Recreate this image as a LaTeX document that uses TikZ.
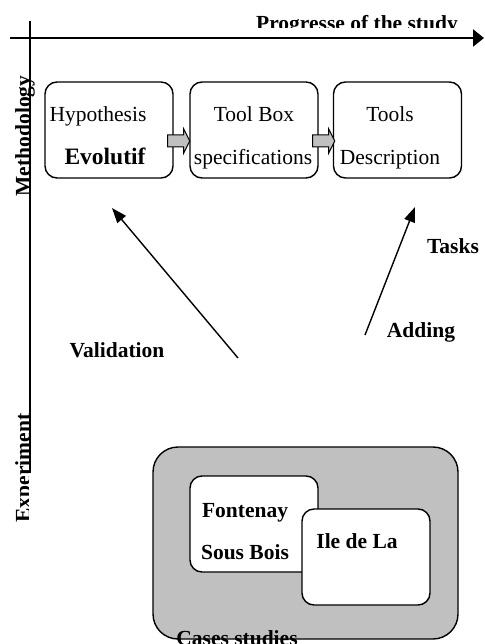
\documentclass[tikz,border=0pt]{standalone}
\usepackage{fontspec}
\setmainfont{Liberation Serif}
\usetikzlibrary{arrows.meta}
\definecolor{shade}{HTML}{C0C0C0}
\begin{document}
\begin{tikzpicture}[x=1pt,y=-1pt,
  box/.style={draw, line width=1.4pt, rounded corners=12pt, fill=white, inner sep=0pt, minimum width=128pt, minimum height=96pt},
  txt/.style={font=\fontsize{21.5}{25}\selectfont, inner sep=0pt, anchor=base},
  btxt/.style={txt, font=\fontsize{21.5}{25}\selectfont\bfseries},
  axisline/.style={line width=2pt},
  conn/.style={line width=1.4pt, -{Triangle[length=15pt,width=11pt]}},
  blockarr/.style={draw, line width=1pt, fill=shade, line join=miter}
]
\useasboundingbox (0,0) rectangle (484,644);

% axes
\coordinate (hs) at (10,38);
\coordinate (he) at (484,38);
\draw[axisline, -{Triangle[length=11pt,width=17pt]}] (hs) -- (he);
\coordinate (vs) at (29.5,21);
\coordinate (ve) at (29.5,473);
\draw[axisline] (vs) -- (ve);

\begin{scope}
\clip (0,0) rectangle (484,27.5);
\node[btxt] (prog) at (357,30.5) {Progresse of the study};
\end{scope}

\node[btxt, rotate=90] (meth) at (30,136) {Methodology};
\begin{scope}
\clip (0,400) rectangle (28,540);
\node[btxt, rotate=90] (exper) at (30,468) {Experiment};
\end{scope}

% methodology boxes
\node[box] (hyp) at (109,130) {};
\node[box] (tb) at (254,130) {};
\node[box] (td) at (397.5,130) {};

\node[txt] (hyp1) at (98,122) {Hypothesis};
\node[txt, font=\fontsize{23.5}{27}\selectfont\bfseries] (hyp2) at (105,165) {Evolutif};
\node[txt] (tb1) at (254,122) {Tool Box};
\node[txt] (tb2) at (253,165) {specifications};
\node[txt] (td1) at (390,122) {Tools};
\node[txt] (td2) at (390,165) {Description};

% block arrows
\draw[blockarr] ([xshift=-6pt,yshift=-5pt]hyp.east) -- ++(16,0) -- ++(0,-6) -- ++(6,12) -- ++(-6,12) -- ++(0,-6) -- ++(-16,0) -- cycle;
\draw[blockarr] ([xshift=-6pt,yshift=-5pt]tb.east) -- ++(16,0) -- ++(0,-6) -- ++(6,12) -- ++(-6,12) -- ++(0,-6) -- ++(-16,0) -- cycle;

% diagonal arrows
\coordinate (v0) at (238,358);
\coordinate (v1) at (112,208);
\draw[conn] (v0) -- (v1);
\coordinate (a0) at (365,335);
\coordinate (a1) at (415,207);
\draw[conn] (a0) -- (a1);

\node[btxt] (val) at (117,357) {Validation};
\node[btxt] (tasks) at (453,253) {Tasks};
\node[btxt] (add) at (421,337) {Adding};

% cases studies
\node[draw, line width=1.4pt, rounded corners=25pt, fill=shade, minimum width=305pt, minimum height=192pt, inner sep=0pt] (cases) at (305.5,543) {};
\node[box] (font) at (254,524) {};
\node[box] (ile) at (366,557) {};
\node[btxt] (font1) at (245,517) {Fontenay};
\node[btxt] (font2) at (245,559) {Sous Bois};
\node[btxt] (ile1) at (357,548) {Ile de La};
\node[btxt] (casel) at (237,645) {Cases studies};
\end{tikzpicture}
\end{document}
